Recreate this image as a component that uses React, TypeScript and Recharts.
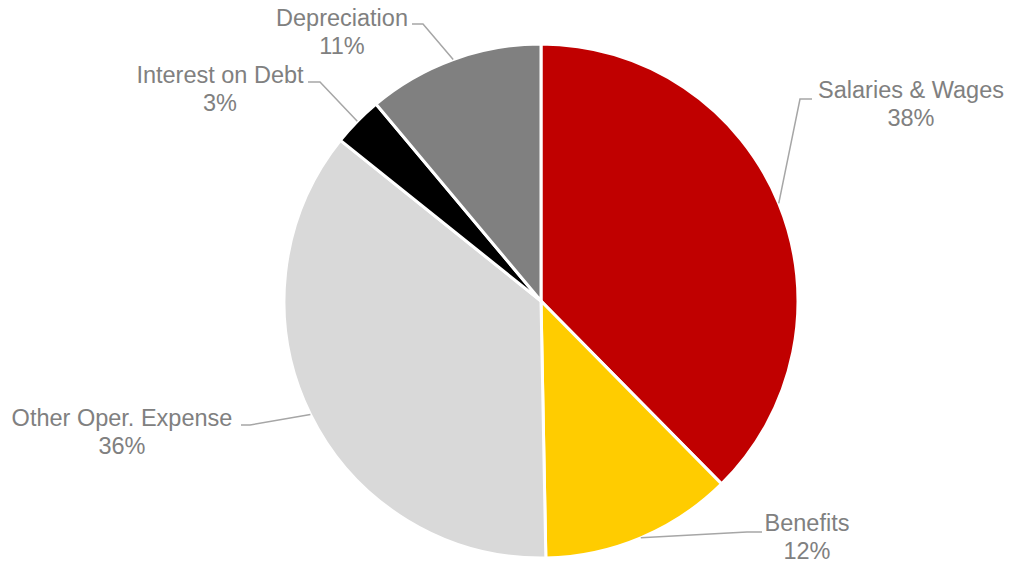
import React from 'react';
import { PieChart, Pie, Cell } from 'recharts';

const categories = ['Salaries & Wages', 'Benefits', 'Other Oper. Expense', 'Interest on Debt', 'Depreciation'];
const shares = [37.6, 12.1, 36.05, 3.15, 11.1];
const colors = ['#C00000', '#FFCC00', '#D9D9D9', '#000000', '#808080'];

const data = categories.map((name, i) => ({ name, value: shares[i] }));

// leader elbow / end and text centre, relative to the pie centre
const labelLayout = [
  { elbow: [259, -202], end: [271, -202], text: [370, -203] },
  { elbow: [206, 231], end: [221, 231], text: [266, 230] },
  { elbow: [-291, 124], end: [-300, 124], text: [-419, 125] },
  { elbow: [-221, -219], end: [-233, -219], text: [-321, -218] },
  { elbow: [-118, -277], end: [-129, -277], text: [-199, -275] },
];

const RAD = Math.PI / 180;

const renderLabel = (props: any) => {
  const { cx, cy, midAngle, outerRadius, index, name, percent } = props;
  const lay = labelLayout[index];
  const sx = cx + outerRadius * Math.cos(-midAngle * RAD);
  const sy = cy + outerRadius * Math.sin(-midAngle * RAD);
  const pts = `${sx},${sy} ${cx + lay.elbow[0]},${cy + lay.elbow[1]} ${cx + lay.end[0]},${cy + lay.end[1]}`;
  const tx = cx + lay.text[0];
  const ty = cy + lay.text[1];
  return (
    <g>
      <polyline points={pts} fill="none" stroke="#A6A6A6" strokeWidth={1.5} />
      <text x={tx} y={ty} textAnchor="middle" fill="#808080" fontSize={23.5}>
        {name}
      </text>
      <text x={tx} y={ty + 28} textAnchor="middle" fill="#808080" fontSize={23.5}>
        {`${Math.round(percent * 100)}%`}
      </text>
    </g>
  );
};

export default function App() {
  return (
    <div style={{ position: 'absolute', left: 0, top: 0, background: '#fff', fontFamily: '"Liberation Sans", Arial, sans-serif' }}>
      <PieChart width={1010} height={563} margin={{ top: 0, right: 0, bottom: 0, left: 0 }}>
        <Pie
          data={data}
          dataKey="value"
          nameKey="name"
          cx={541}
          cy={301}
          outerRadius={257}
          startAngle={90}
          endAngle={-270}
          stroke="#FFFFFF"
          strokeWidth={3}
          label={renderLabel}
          labelLine={false}
          isAnimationActive={false}
        >
          {data.map((d, i) => (
            <Cell key={d.name} fill={colors[i]} />
          ))}
        </Pie>
      </PieChart>
    </div>
  );
}
